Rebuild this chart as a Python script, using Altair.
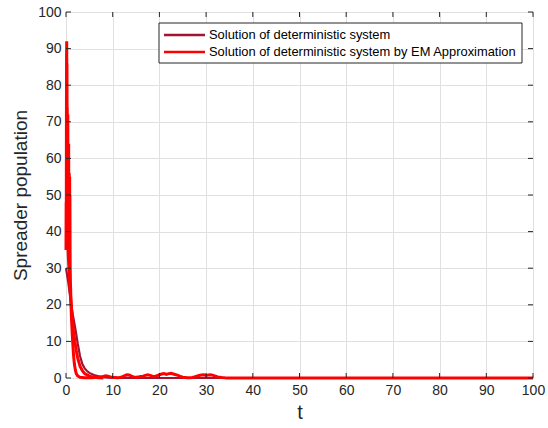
import altair as alt
import pandas as pd
import numpy as np

# ---------------- data ----------------
LBL_DET = "Solution of deterministic system"
LBL_EM = "Solution of deterministic system by EM Approximation"

det_t = [0, 0.5, 1, 1.5, 2, 2.5, 3, 3.5, 4, 4.5, 5, 6, 7, 8, 9, 10, 12, 15, 100]
det_v = [30, 26, 21, 17, 13.5, 9.5, 6, 3.8, 2.6, 1.9, 1.4, 0.8, 0.45, 0.25, 0.12, 0.06, 0.02, 0, 0]

# EM path: early wild part
em_t_early = [0, 0.03, 0.06, 0.09, 0.12, 0.15, 0.18, 0.21, 0.24, 0.27, 0.3, 0.33, 0.36,
              0.39, 0.42, 0.45, 0.48, 0.51, 0.54, 0.57, 0.6, 0.63, 0.66, 0.69, 0.72,
              0.75, 0.78, 0.81, 0.84, 0.87, 0.9, 0.95, 1.0, 1.1, 1.2, 1.3, 1.4, 1.5,
              1.6, 1.7, 1.8, 2.0, 2.2, 2.5, 2.8]
em_v_early = [35, 48, 40, 70, 88, 92, 78, 86, 65, 74, 55, 68, 50, 72, 45, 60, 38, 58,
              42, 64, 35, 52, 40, 56, 33, 48, 55, 42, 50, 36, 30, 26, 24, 19, 15.5,
              13, 10.5, 8.5, 6.5, 5, 3.8, 2.2, 1.2, 0.6, 0.35]
# EM path: small fluctuations, t = 3.0 ... 35.0 every 0.5
em_v_noise = [0.2, 0.15, 0.1, 0.1, 0.08, 0.1, 0.15, 0.2, 0.25, 0.3, 0.4, 0.6, 0.5, 0.3,
              0.2, 0.15, 0.1, 0.15, 0.3, 0.6, 0.9, 0.8, 0.5, 0.3, 0.2, 0.3, 0.4, 0.5,
              0.7, 0.9, 0.7, 0.5, 0.4, 0.6, 0.9, 1.1, 1.2, 1.0, 1.2, 1.3, 1.1, 0.9,
              0.7, 0.4, 0.2, 0.15, 0.1, 0.1, 0.15, 0.3, 0.5, 0.7, 0.8, 0.9, 0.7, 0.8,
              0.9, 0.7, 0.5, 0.3, 0.2, 0.1, 0.05, 0.02, 0]
em_t_tail = [40, 60, 80, 100]
em_v_tail = [0, 0, 0, 0]

# second EM strand near the deterministic curve
em2_t = [0.2, 0.5, 0.8, 1.0, 1.3, 1.6, 1.9, 2.2, 2.5, 3.0, 3.5, 4.0, 5.0, 6.0, 7.0, 8.0]
em2_v = [45, 33, 26, 22, 17, 13, 10, 7.5, 5.5, 3.2, 2.0, 1.2, 0.5, 0.2, 0.08, 0]

ticks = [0, 10, 20, 30, 40, 50, 60, 70, 80, 90, 100]

# ---------------- tables ----------------
em_t_noise = list(np.arange(3.0, 35.01, 0.5))
det_df = pd.DataFrame({"t": det_t, "v": det_v, "series": LBL_DET, "run": "d"})
em_df = pd.concat([
    pd.DataFrame({"t": em_t_early + em_t_noise + em_t_tail,
                  "v": em_v_early + em_v_noise + em_v_tail,
                  "series": LBL_EM, "run": "a"}),
    pd.DataFrame({"t": em2_t, "v": em2_v, "series": LBL_EM, "run": "b"}),
])
em_df["o"] = range(len(em_df))
tick_df = pd.DataFrame({"k": ticks})
one = pd.DataFrame({"a": [0]})

W, H = 467, 366
FONT = "Liberation Sans"
C_DET, C_EM = "#A2142F", "#FF0000"
TC = "#262626"

xs = alt.Scale(domain=[0, 100], nice=False)
ys = alt.Scale(domain=[0, 100], nice=False)

xaxis = alt.Axis(values=ticks, grid=True, gridColor="#e0e0e0", domain=False, ticks=False,
                 labelFont=FONT, labelFontSize=14, labelColor=TC, labelPadding=5,
                 labelOverlap=False, labelFlush=False,
                 title="t", titleFont=FONT, titleFontSize=20, titleFontWeight="normal",
                 titleColor=TC, titlePadding=5)
yaxis = alt.Axis(values=ticks, grid=True, gridColor="#e0e0e0", domain=False, ticks=False,
                 labelFont=FONT, labelFontSize=14, labelColor=TC, labelPadding=5,
                 labelOverlap=False,
                 title="Spreader population", titleFont=FONT, titleFontSize=19,
                 titleFontWeight="normal", titleColor=TC, titlePadding=7)

det_line = alt.Chart(det_df).mark_line(strokeWidth=2.2, color=C_DET).encode(
    x=alt.X("t:Q", scale=xs, axis=xaxis),
    y=alt.Y("v:Q", scale=ys, axis=yaxis),
)
em_line = alt.Chart(em_df).mark_line(strokeWidth=3, color=C_EM).encode(
    x=alt.X("t:Q", scale=xs, axis=xaxis),
    y=alt.Y("v:Q", scale=ys, axis=yaxis),
    detail="run:N",
    order="o:Q",
)

xt_bot = alt.Chart(tick_df).mark_rule(color=TC).encode(
    x=alt.X("k:Q", scale=xs, axis=xaxis), y=alt.value(H), y2=alt.value(H - 5))
xt_top = alt.Chart(tick_df).mark_rule(color=TC).encode(
    x=alt.X("k:Q", scale=xs, axis=xaxis), y=alt.value(0), y2=alt.value(5))
yt_l = alt.Chart(tick_df).mark_rule(color=TC).encode(
    y=alt.Y("k:Q", scale=ys, axis=yaxis), x=alt.value(0), x2=alt.value(5))
yt_r = alt.Chart(tick_df).mark_rule(color=TC).encode(
    y=alt.Y("k:Q", scale=ys, axis=yaxis), x=alt.value(W), x2=alt.value(W - 5))

# manual legend (MATLAB style box)
leg_box = alt.Chart(one).mark_rect(fill="white", stroke=TC, strokeWidth=1).encode(
    x=alt.value(93), x2=alt.value(456), y=alt.value(11), y2=alt.value(51))
leg_l1 = alt.Chart(one).mark_rule(color=C_DET, strokeWidth=2.5).encode(
    x=alt.value(98), x2=alt.value(139), y=alt.value(23))
leg_l2 = alt.Chart(one).mark_rule(color=C_EM, strokeWidth=2.5).encode(
    x=alt.value(98), x2=alt.value(139), y=alt.value(40))
leg_t1 = alt.Chart(one).mark_text(align="left", baseline="middle", font=FONT,
                                  fontSize=12.9, color="#000000", text=LBL_DET).encode(
    x=alt.value(143), y=alt.value(23))
leg_t2 = alt.Chart(one).mark_text(align="left", baseline="middle", font=FONT,
                                  fontSize=12.9, color="#000000", text=LBL_EM).encode(
    x=alt.value(143), y=alt.value(40))

chart = alt.layer(det_line, em_line, xt_bot, xt_top, yt_l, yt_r,
                  leg_box, leg_l1, leg_l2, leg_t1, leg_t2).properties(
    width=W, height=H,
    autosize=alt.AutoSizeParams(type="none"),
    padding={"left": 66, "top": 12, "right": 15, "bottom": 50},
).configure_view(stroke=TC, strokeWidth=1).configure(background="white")

chart.save("out.html", embed_options={"renderer": "svg", "actions": False})
